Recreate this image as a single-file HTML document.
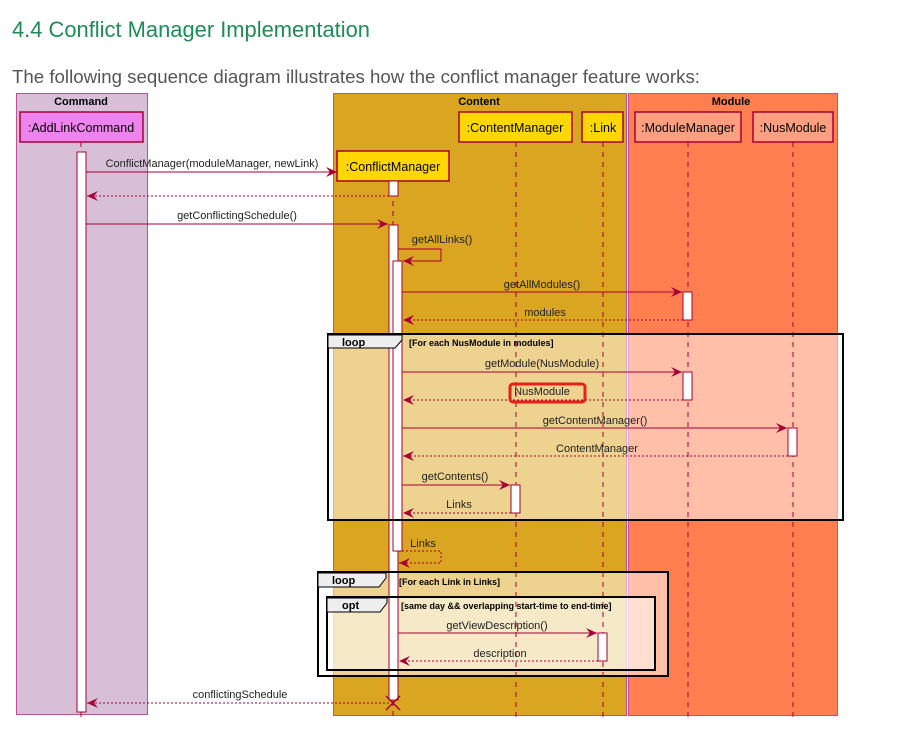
<!DOCTYPE html>
<html><head><meta charset="utf-8"><style>
html,body{margin:0;padding:0;background:#fff;width:915px;height:731px;overflow:hidden}
svg{display:block}
</style></head><body>
<svg width="915" height="731" xmlns="http://www.w3.org/2000/svg" font-family="Liberation Sans, sans-serif">
<defs>
<marker id="a" markerWidth="12" markerHeight="10" refX="11" refY="5" orient="auto" markerUnits="userSpaceOnUse">
<path d="M0,0 L11,5 L0,10 L4,5 z" fill="#a80036"/></marker>
</defs>
<text x="12" y="37" font-size="22" fill="#1e8c57" textLength="358" lengthAdjust="spacingAndGlyphs">4.4 Conflict Manager Implementation</text>
<text x="12" y="83" font-size="18" fill="#555" textLength="688" lengthAdjust="spacingAndGlyphs">The following sequence diagram illustrates how the conflict manager feature works:</text>

<rect x="16.5" y="93.5" width="131" height="621" fill="#d8bfd8" stroke="#c0508f"/>
<text x="81" y="105" font-size="11" font-weight="bold" text-anchor="middle">Command</text>
<rect x="333.5" y="93.5" width="293" height="622" fill="#daa520" stroke="#c0508f"/>
<text x="479" y="105" font-size="11" font-weight="bold" text-anchor="middle">Content</text>
<rect x="628.5" y="93.5" width="209" height="622" fill="#ff7f50" stroke="#c0508f"/>
<text x="731" y="105" font-size="11" font-weight="bold" text-anchor="middle">Module</text>

<rect x="328" y="334" width="515" height="186" fill="#fff" fill-opacity="0.5"/>
<rect x="318" y="572" width="350" height="104" fill="#fff" fill-opacity="0.5"/>
<rect x="327" y="597" width="328" height="73" fill="#fff" fill-opacity="0.5"/>

<g stroke="#a80036" stroke-dasharray="5,5" stroke-width="1">
<line x1="81" y1="142" x2="81" y2="720"/>
<line x1="393" y1="181" x2="393" y2="720"/>
<line x1="516" y1="142" x2="516" y2="720"/>
<line x1="603" y1="142" x2="603" y2="720"/>
<line x1="688" y1="142" x2="688" y2="720"/>
<line x1="793" y1="142" x2="793" y2="720"/>
</g>

<g font-size="12.5" text-anchor="middle" stroke-width="1.5">
<rect x="20" y="112" width="123" height="30" fill="#ee82ee" stroke="#a80036"/>
<text x="81" y="132">:AddLinkCommand</text>
<rect x="459" y="112" width="113" height="30" fill="#ffd700" stroke="#a80036"/>
<text x="515" y="132">:ContentManager</text>
<rect x="582" y="112" width="41" height="30" fill="#ffd700" stroke="#a80036"/>
<text x="603" y="132">:Link</text>
<rect x="635" y="112" width="106" height="30" fill="#ff9f80" stroke="#a80036"/>
<text x="688" y="132">:ModuleManager</text>
<rect x="753" y="112" width="80" height="30" fill="#ff9f80" stroke="#a80036"/>
<text x="793" y="132">:NusModule</text>
<rect x="337" y="151" width="112" height="30" fill="#ffd700" stroke="#a80036"/>
<text x="393" y="171">:ConflictManager</text>
</g>

<g fill="#fff" stroke="#a80036">
<rect x="77" y="152" width="9" height="560"/>
<rect x="389" y="181" width="9" height="15"/>
<rect x="389" y="225" width="9" height="475"/>
<rect x="393" y="261" width="9" height="290"/>
<rect x="683" y="292" width="9" height="28"/>
<rect x="683" y="372" width="9" height="28"/>
<rect x="788" y="428" width="9" height="28"/>
<rect x="511" y="485" width="9" height="28"/>
<rect x="598" y="633" width="9" height="28"/>
</g>

<g fill="none" stroke="#000" stroke-width="2">
<rect x="328" y="334" width="515" height="186"/>
<rect x="318" y="572" width="350" height="104"/>
<rect x="327" y="597" width="328" height="73"/>
</g>
<g fill="#eee" stroke="#000" stroke-width="1">
<path d="M328,335 H402 V340 L395,348 H328 Z"/>
<path d="M318,573 H386 V578 L379,587 H318 Z"/>
<path d="M327,598 H387 V603 L380,612 H327 Z"/>
</g>
<g font-size="11" font-weight="bold">
<text x="342" y="346">loop</text>
<text x="332" y="584">loop</text>
<text x="342" y="609">opt</text>
<text x="409" y="346" font-size="9">[For each NusModule in modules]</text>
<text x="399" y="585" font-size="9">[For each Link in Links]</text>
<text x="401" y="609" font-size="9">[same day &amp;&amp; overlapping start-time to end-time]</text>
</g>

<g stroke="#a80036" fill="none" marker-end="url(#a)">
<line x1="86" y1="172" x2="337" y2="172"/>
<line x1="389" y1="196" x2="87" y2="196" stroke-dasharray="2,2"/>
<line x1="86" y1="224" x2="388" y2="224"/>
<polyline points="398,249 441,249 441,261 403,261"/>
<line x1="402" y1="292" x2="682" y2="292"/>
<line x1="683" y1="320" x2="403" y2="320" stroke-dasharray="2,2"/>
<line x1="402" y1="372" x2="682" y2="372"/>
<line x1="683" y1="400" x2="403" y2="400" stroke-dasharray="2,2"/>
<line x1="402" y1="428" x2="787" y2="428"/>
<line x1="788" y1="456" x2="403" y2="456" stroke-dasharray="2,2"/>
<line x1="402" y1="485" x2="510" y2="485"/>
<line x1="511" y1="513" x2="403" y2="513" stroke-dasharray="2,2"/>
<polyline points="402,551 441,551 441,563 399,563" stroke-dasharray="2,2"/>
<line x1="398" y1="633" x2="597" y2="633"/>
<line x1="598" y1="661" x2="399" y2="661" stroke-dasharray="2,2"/>
<line x1="389" y1="703" x2="87" y2="703" stroke-dasharray="2,2"/>
</g>
<g stroke="#a80036" stroke-width="1.5"><line x1="386" y1="696" x2="400" y2="710"/><line x1="400" y1="696" x2="386" y2="710"/></g>

<g font-size="11" fill="#222" text-anchor="middle">
<text x="212" y="167">ConflictManager(moduleManager, newLink)</text>
<text x="237" y="219">getConflictingSchedule()</text>
<text x="442" y="243">getAllLinks()</text>
<text x="542" y="288">getAllModules()</text>
<text x="545" y="316">modules</text>
<text x="542" y="367">getModule(NusModule)</text>
<text x="542" y="395">NusModule</text>
<text x="595" y="424">getContentManager()</text>
<text x="597" y="452">ContentManager</text>
<text x="455" y="480">getContents()</text>
<text x="459" y="508">Links</text>
<text x="423" y="547">Links</text>
<text x="497" y="629">getViewDescription()</text>
<text x="500" y="657">description</text>
<text x="240" y="698">conflictingSchedule</text>
</g>
<rect x="510" y="384" width="75" height="18" rx="3" fill="none" stroke="#e8201a" stroke-width="3"/>
</svg>
</body></html>
